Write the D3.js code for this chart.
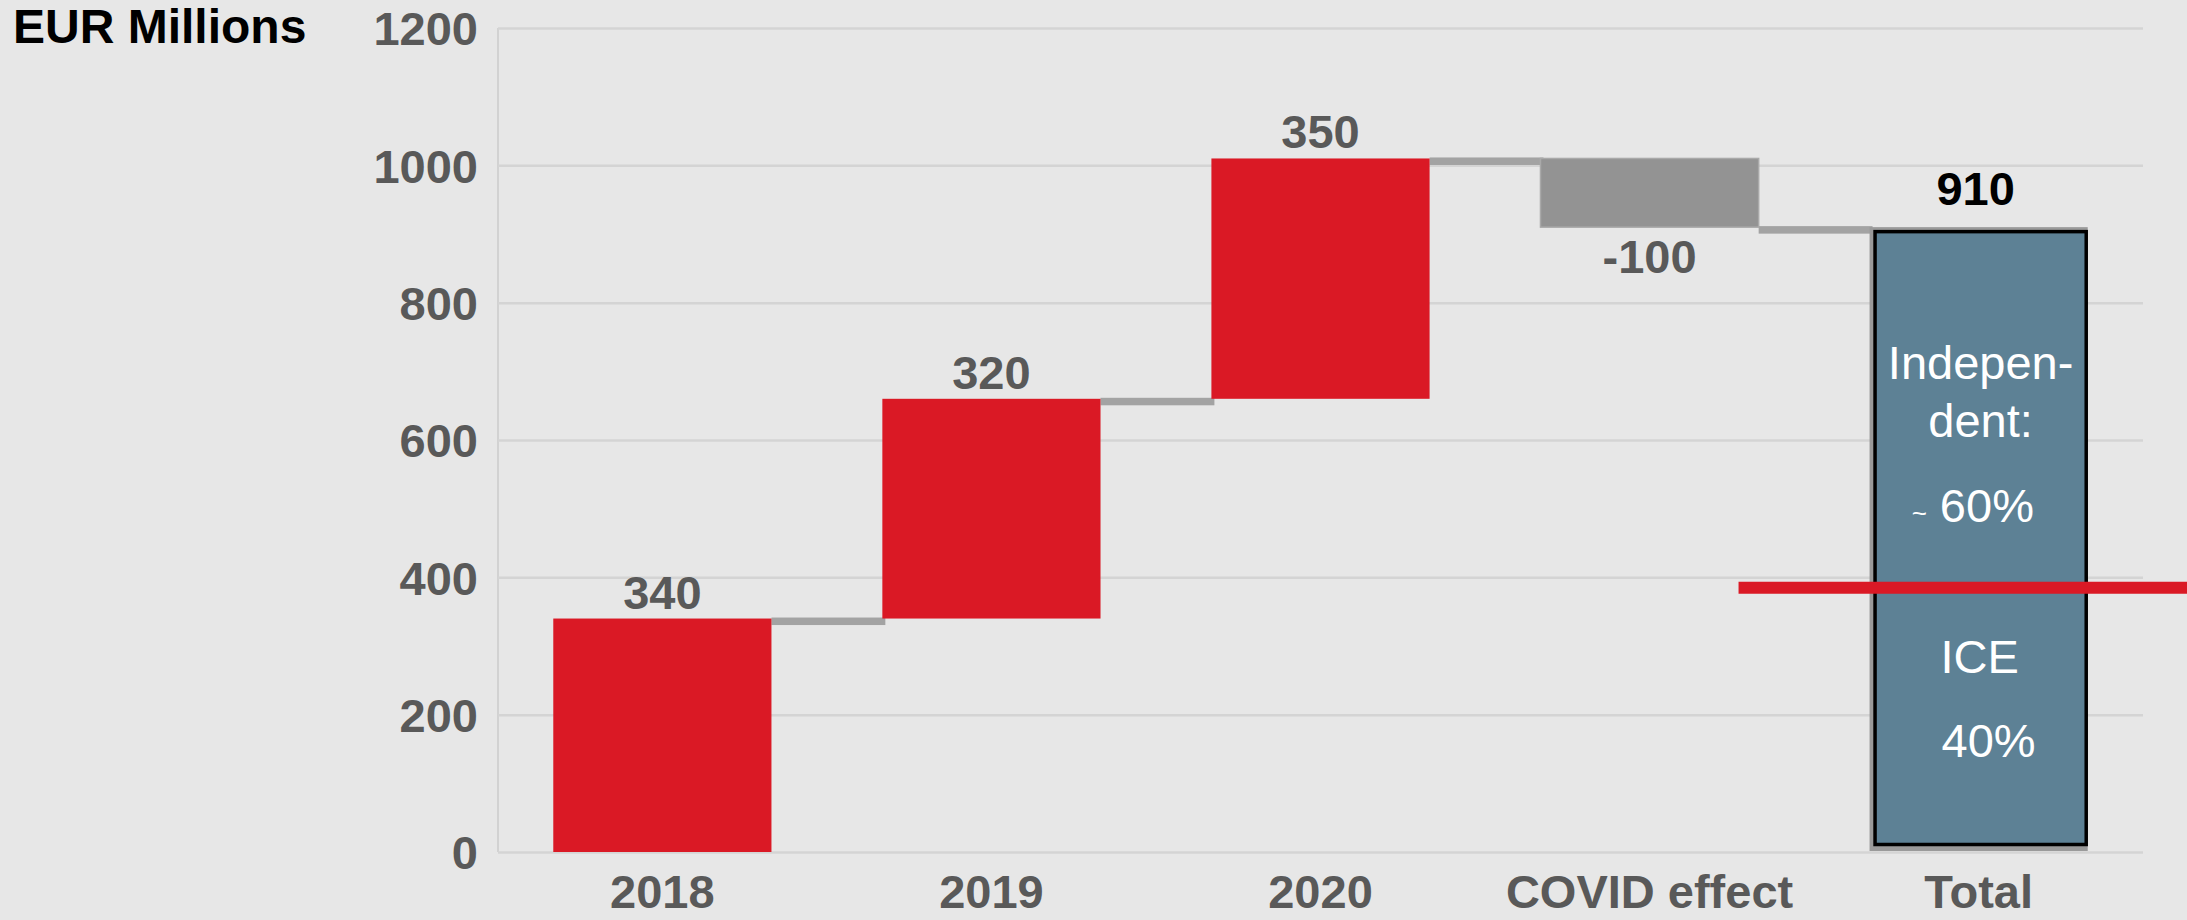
<!DOCTYPE html>
<html>
<head>
<meta charset="utf-8">
<script src="https://cdn.jsdelivr.net/npm/d3@7"></script>
<style>
	body { margin: 0; background: #e7e7e7; }
	svg { display: block; font-family: "Liberation Sans", Arial, sans-serif; }
</style>
</head>
<body>
<div id="chart"></div>
<script>
// data
var categories = ["2018", "2019", "2020", "COVID effect", "Total"];
var steps = [340, 320, 350, -100];
var total = 910;
var stepLabels = ["340", "320", "350", "-100"];
var totalLabel = "910";
var yTicks = [0, 200, 400, 600, 800, 1000, 1200];
var splitValue = 385;   // red line on the total bar
var boxTextTop = ["Indepen-", "dent:"];
var boxTextShare = ["~", " 60%"];
var boxTextBottom = ["ICE", "40%"];

var W = 2187, H = 920;
var margin = {top: 28, right: 44, bottom: 68, left: 498}
  , width = W - margin.left - margin.right
  , height = H - margin.top - margin.bottom;

var red = "#da1925", grey = "#939393", linkGrey = "#a3a3a3", slate = "#5d8195", textGrey = "#595959";

var svg = d3.select("#chart").append("svg")
	.attr("width", W)
	.attr("height", H);

svg.append("rect").attr("width", W).attr("height", H).attr("fill", "#e7e7e7");

var xScale = d3.scaleBand()
	.domain(categories)
	.range([0, width])
	.paddingInner(0.337)
	.paddingOuter(0.168);

var yScale = d3.scaleLinear()
	.domain([0, 1200])
	.range([height, 0]);

var g = svg.append("g")
	.attr("transform", "translate(" + margin.left + "," + margin.top + ")");

// gridlines + y labels
var yAxis = g.append("g")
	.call(d3.axisLeft(yScale).tickValues(yTicks).tickFormat(d3.format("d")).tickSize(-width).tickPadding(20));
yAxis.select(".domain")
	.attr("stroke", "#d2d2d2")
	.attr("stroke-width", 2)
	.attr("d", "M0," + yScale(1200) + "V" + yScale(0));
yAxis.selectAll(".tick line")
	.attr("stroke", "#d4d4d4")
	.attr("stroke-width", 2.5);
yAxis.selectAll(".tick text")
	.attr("fill", textGrey)
	.attr("font-size", 47)
	.attr("font-weight", "bold")
	.attr("dy", "0.36em");

// x labels
var xAxis = g.append("g")
	.attr("transform", "translate(0," + height + ")")
	.call(d3.axisBottom(xScale).tickSize(0).tickPadding(0));
xAxis.select(".domain").remove();
xAxis.selectAll(".tick text")
	.attr("fill", textGrey)
	.attr("font-size", 47)
	.attr("font-weight", "bold")
	.attr("y", 56)
	.attr("dy", 0);

// waterfall
var runs = [];
var level = 0;
for (var a = 0; a < steps.length; a++) {
	runs.push({cat: categories[a], start: level, end: level + steps[a], label: stepLabels[a]});
	level += steps[a];
}
var bw = xScale.bandwidth();

// connectors
for (var b = 0; b < runs.length; b++) {
	var nextCat = categories[b + 1];
	var lv = runs[b].end;
	g.append("rect")
		.attr("x", xScale(runs[b].cat) + bw)
		.attr("y", yScale(lv) - 1)
		.attr("width", xScale(nextCat) - xScale(runs[b].cat) - bw + 3)
		.attr("height", 7.5)
		.attr("fill", linkGrey);
}

g.selectAll(".step")
	.data(runs)
	.enter().append("rect")
	.attr("class", "step")
	.attr("x", function(d) { return xScale(d.cat); })
	.attr("y", function(d) { return yScale(Math.max(d.start, d.end)); })
	.attr("width", bw)
	.attr("height", function(d) { return Math.abs(yScale(d.start) - yScale(d.end)); })
	.attr("fill", function(d) { return d.end >= d.start ? red : grey; })
	.attr("stroke", function(d) { return d.end >= d.start ? "none" : "#a9a9a9"; })
	.attr("stroke-width", 1.5);

g.selectAll(".stepLabel")
	.data(runs)
	.enter().append("text")
	.attr("class", "stepLabel")
	.attr("x", function(d) { return xScale(d.cat) + bw / 2; })
	.attr("y", function(d) {
		return d.end >= d.start ? yScale(d.end) - 10 : yScale(d.end) + 46;
	})
	.attr("text-anchor", "middle")
	.attr("font-size", 47)
	.attr("font-weight", "bold")
	.attr("fill", textGrey)
	.text(function(d) { return d.label; });

// total bar
var tx = xScale("Total");
g.append("rect")
	.attr("x", tx)
	.attr("y", yScale(total))
	.attr("width", bw)
	.attr("height", yScale(0) - yScale(total) - 1)
	.attr("fill", "#9a9a9a");
g.append("rect")
	.attr("x", tx + 5.5)
	.attr("y", yScale(total) + 4.5)
	.attr("width", bw - 7)
	.attr("height", yScale(0) - yScale(total) - 12)
	.attr("fill", slate)
	.attr("stroke", "#000")
	.attr("stroke-width", 3.5);

g.append("text")
	.attr("x", tx + bw / 2 - 3)
	.attr("y", yScale(total) - 22)
	.attr("text-anchor", "middle")
	.attr("font-size", 47)
	.attr("font-weight", "bold")
	.attr("fill", "#000")
	.text(totalLabel);

var cx = tx + bw / 2;
g.selectAll(".boxTop")
	.data(boxTextTop)
	.enter().append("text")
	.attr("x", cx + 2)
	.attr("y", function(d, i) { return yScale(total) + 152 + i * 58; })
	.attr("text-anchor", "middle")
	.attr("font-size", 47)
	.attr("fill", "#fff")
	.text(function(d) { return d; });

var share = g.append("text")
	.attr("x", cx - 67)
	.attr("y", yScale(total) + 295)
	.attr("font-size", 47)
	.attr("fill", "#fff");
share.append("tspan").attr("font-size", 26).text(boxTextShare[0]);
share.append("tspan").text(boxTextShare[1]);

g.selectAll(".boxBottom")
	.data(boxTextBottom)
	.enter().append("text")
	.attr("x", function(d, i) { return i == 0 ? cx + 1 : cx + 10; })
	.attr("y", function(d, i) { return yScale(total) + 446 + i * 84; })
	.attr("text-anchor", "middle")
	.attr("font-size", 47)
	.attr("fill", "#fff")
	.text(function(d) { return d; });

// red split line
g.append("line")
	.attr("x1", tx - 131)
	.attr("x2", W - margin.left)
	.attr("y1", yScale(splitValue))
	.attr("y2", yScale(splitValue))
	.attr("stroke", red)
	.attr("stroke-width", 12);

// unit label
svg.append("text")
	.attr("x", 13)
	.attr("y", 43)
	.attr("font-size", 48)
	.attr("font-weight", "bold")
	.attr("fill", "#000")
	.text("EUR Millions");
</script>
</body>
</html>
